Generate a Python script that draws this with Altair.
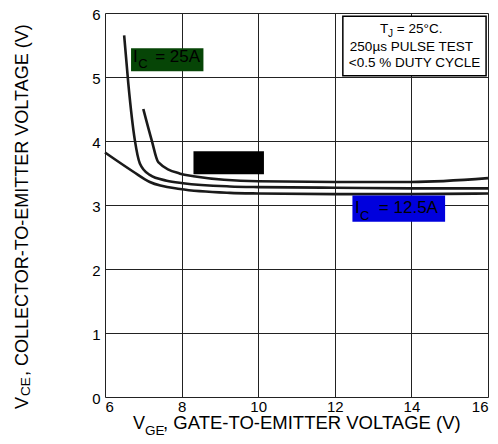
import altair as alt
import pandas as pd

FONT = "Liberation Sans"

# ---- data ----
vge_c1 = [6.50, 6.61, 6.78, 6.91, 7.17, 7.61, 8.04, 9.26, 10.0, 12.0, 14.0, 16.0]
vce_c1 = [5.65, 4.89, 4.01, 3.65, 3.47, 3.38, 3.34, 3.29, 3.28, 3.27, 3.26, 3.26]
vge_c2 = [7.00, 7.22, 7.39, 7.96, 8.31, 10.0, 12.0, 14.0, 16.0]
vce_c2 = [4.50, 4.01, 3.67, 3.49, 3.45, 3.37, 3.36, 3.36, 3.42]
vge_c3 = [6.00, 6.74, 7.17, 7.96, 9.26, 10.0, 12.0, 14.0, 16.0]
vce_c3 = [3.82, 3.52, 3.36, 3.25, 3.19, 3.18, 3.17, 3.17, 3.18]

x_ticks = [6, 8, 10, 12, 14, 16]
y_ticks = [0, 1, 2, 3, 4, 5, 6]

W, H = 383, 384

rows = []
for name, xs_, ys_ in [("c1", vge_c1, vce_c1), ("c2", vge_c2, vce_c2), ("c3", vge_c3, vce_c3)]:
    for a, b in zip(xs_, ys_):
        rows.append({"curve": name, "vge": a, "vce": b})
curves_df = pd.DataFrame(rows)

xs = alt.Scale(domain=[6, 16], nice=False, zero=False)
ys = alt.Scale(domain=[0, 6], nice=False, zero=False)

x_axis = alt.Axis(values=x_ticks, grid=True, gridColor="#222", gridWidth=1, domain=False,
                  ticks=False, labelFontSize=15, labelFont=FONT, labelColor="black",
                  labelPadding=2, labelFlush=True, format="d", title=None)
y_axis = alt.Axis(values=y_ticks, grid=True, gridColor="#222", gridWidth=1, domain=False,
                  ticks=False, labelFontSize=15, labelFont=FONT, labelColor="black",
                  labelPadding=5, labelOffset=1, format="d", title=None)

curves = alt.Chart(curves_df).mark_line(color="#1a1a1a", strokeWidth=2.6, interpolate="monotone").encode(
    x=alt.X("vge:Q", scale=xs, axis=x_axis),
    y=alt.Y("vce:Q", scale=ys, axis=y_axis),
    detail="curve:N",
)

# label boxes
boxes_df = pd.DataFrame({
    "x": [6.68, 8.31, 12.46], "x2": [8.57, 10.15, 14.88],
    "y": [5.09, 3.48, 2.74], "y2": [5.45, 3.84, 3.15],
    "fill": ["#064506", "#000000", "#0000dd"],
})
boxes = alt.Chart(boxes_df).mark_rect().encode(
    x=alt.X("x:Q", scale=xs), x2="x2:Q", y=alt.Y("y:Q", scale=ys), y2="y2:Q",
    color=alt.Color("fill:N", scale=None),
)

note_df = pd.DataFrame({"x": [12.21], "x2": [15.95], "y": [5.02], "y2": [5.95]})
note_box = alt.Chart(note_df).mark_rect(fill="white", stroke="black", strokeWidth=1.5).encode(
    x=alt.X("x:Q", scale=xs), x2="x2:Q", y=alt.Y("y:Q", scale=ys), y2="y2:Q",
)


def data_text(df, size, align="left"):
    return alt.Chart(pd.DataFrame(df)).mark_text(
        font=FONT, fontSize=size, align=align, baseline="alphabetic", color="black"
    ).encode(x=alt.X("x:Q", scale=xs), y=alt.Y("y:Q", scale=ys), text="t:N")


big_txt = data_text({"x": [6.73, 7.31, 12.53, 13.15], "y": [5.23, 5.23, 2.87, 2.87],
                     "t": ["I", "= 25A", "I", "= 12.5A"]}, 17)
sub_txt = data_text({"x": [6.87, 12.66], "y": [5.14, 2.76], "t": ["C", "C"]}, 13)
note_txt = data_text({"x": [13.18, 13.62], "y": [5.68, 5.68], "t": ["T", "= 25°C."]}, 13.5)
note_sub = data_text({"x": [13.39], "y": [5.62], "t": ["J"]}, 10)
note_c = data_text({"x": [14.0, 14.08], "y": [5.40, 5.16],
                    "t": ["250µs PULSE TEST", "<0.5 % DUTY CYCLE"]}, 13.5, align="center")


def px_text(t, px, py, size, angle=0):
    return alt.Chart(pd.DataFrame({"t": [t]})).mark_text(
        font=FONT, fontSize=size, align="left", baseline="alphabetic", color="black", angle=angle
    ).encode(x=alt.value(px), y=alt.value(py), text="t:N")


titles = [
    px_text("V", 28, 416, 18),
    px_text("GE", 40, 422, 13.5),
    px_text(", GATE-TO-EMITTER VOLTAGE (V)", 58, 416, 18.5),
    px_text("V", -77, 396, 18, 270),
    px_text("CE", -75, 383, 13.5, 270),
    px_text(", COLLECTOR-TO-EMITTER VOLTAGE (V)", -77, 363, 18, 270),
]

chart = alt.layer(
    curves, boxes, note_box, big_txt, sub_txt, note_txt, note_sub, note_c, *titles
).properties(
    width=W, height=H,
    autosize=alt.AutoSizeParams(type="none"),
    padding={"left": 97, "top": 5, "right": 2, "bottom": 39},
).configure_view(stroke="black", strokeWidth=3).configure(background="white")

chart.save("out.html", embed_options={"renderer": "svg", "actions": False})
